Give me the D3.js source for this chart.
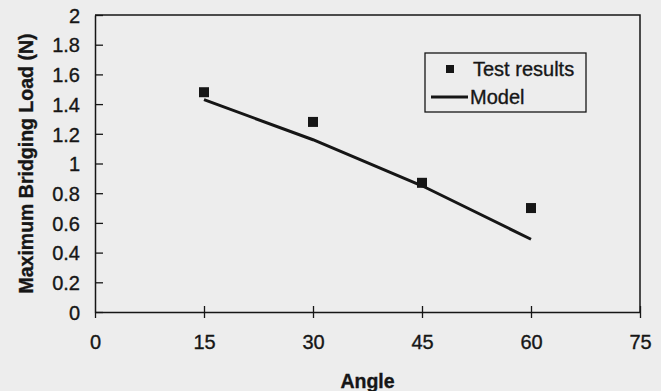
<!DOCTYPE html>
<html>
<head>
<meta charset="utf-8">
<script src="https://cdn.jsdelivr.net/npm/d3@7"></script>
<style>
  body { margin: 0; background: #ededed; }
  svg { display: block; font-family: "Liberation Sans", Arial, sans-serif; }
  text { stroke: #161616; stroke-width: 0.35px; }
</style>
</head>
<body>
<svg id="chart" width="661" height="391"></svg>
<script>
// data
const angles = [15, 30, 45, 60];
const testResults = [1.48, 1.28, 0.87, 0.70];
const modelValues = [1.43, 1.16, 0.85, 0.49];
const xTicks = [0, 15, 30, 45, 60, 75];
const yTicks = [0, 0.2, 0.4, 0.6, 0.8, 1, 1.2, 1.4, 1.6, 1.8, 2];

const ink = "#161616";
const svg = d3.select("#chart");
const margin = {left: 95, right: 21, top: 15, bottom: 79};
const W = 661, H = 391;

const x = d3.scaleLinear().domain([0, 75]).range([margin.left, W - margin.right]);
const y = d3.scaleLinear().domain([0, 2]).range([H - margin.bottom, margin.top]);

// frame (top and right)
svg.append("path")
  .attr("d", `M${x(0)},${y(2)}H${x(75)}V${y(0)}`)
  .attr("fill", "none").attr("stroke", ink).attr("stroke-width", 1.5);

// y axis
const yAxis = svg.append("g")
  .attr("transform", `translate(${x(0)},0)`)
  .call(d3.axisLeft(y).tickValues(yTicks).tickSize(7).tickSizeOuter(0).tickFormat(d3.format("")));
yAxis.selectAll(".tick line").attr("x2", 8);
// x axis
const xAxis = svg.append("g")
  .attr("transform", `translate(0,${y(0)})`)
  .call(d3.axisBottom(x).tickValues(xTicks).tickSize(6).tickSizeOuter(0));
xAxis.selectAll(".tick line").attr("y2", 6).attr("y1", -6);

[yAxis, xAxis].forEach(g => {
  g.select(".domain").attr("stroke", ink).attr("stroke-width", 1.5);
  g.selectAll(".tick line").attr("stroke", ink).attr("stroke-width", 1.3);
  g.selectAll("text").attr("fill", ink).style("font-size", "20px");
});
yAxis.selectAll("text").attr("x", -15).attr("dy", "0.36em");
xAxis.selectAll("text").attr("y", 23);
xAxis.selectAll(".tick").filter(d => d === 0).select("line").attr("y1", 0);

// axis titles
svg.append("text")
  .attr("transform", `translate(26,${(y(0) + y(2)) / 2}) rotate(-90)`)
  .attr("text-anchor", "middle").attr("dy", "0.35em")
  .attr("fill", ink).style("font-size", "19.5px").style("font-weight", "bold")
  .text("Maximum Bridging Load (N)");
svg.append("text")
  .attr("x", (x(0) + x(75)) / 2).attr("y", 388)
  .attr("text-anchor", "middle")
  .attr("fill", ink).style("font-size", "19.5px").style("font-weight", "bold")
  .text("Angle");

// model line
const line = d3.line().x((d, i) => x(angles[i])).y(d => y(d));
svg.append("path").datum(modelValues)
  .attr("d", line)
  .attr("fill", "none").attr("stroke", ink).attr("stroke-width", 3);

// test results
svg.selectAll("rect.pt").data(testResults).enter().append("rect")
  .attr("class", "pt")
  .attr("x", (d, i) => x(angles[i]) - 5)
  .attr("y", d => y(d) - 5)
  .attr("width", 10).attr("height", 10)
  .attr("fill", ink);

// legend
const lg = svg.append("g").attr("transform", "translate(425,53)");
lg.append("rect").attr("width", 161).attr("height", 59)
  .attr("fill", "none").attr("stroke", ink).attr("stroke-width", 1.3);
lg.append("rect").attr("x", 21).attr("y", 12).attr("width", 8).attr("height", 8).attr("fill", ink);
lg.append("text").attr("x", 48).attr("y", 23).attr("fill", ink).style("font-size", "20px").text("Test results");
lg.append("line").attr("x1", 6).attr("x2", 43).attr("y1", 44).attr("y2", 44)
  .attr("stroke", ink).attr("stroke-width", 3);
lg.append("text").attr("x", 45).attr("y", 51).attr("fill", ink).style("font-size", "20px").text("Model");
</script>
</body>
</html>
